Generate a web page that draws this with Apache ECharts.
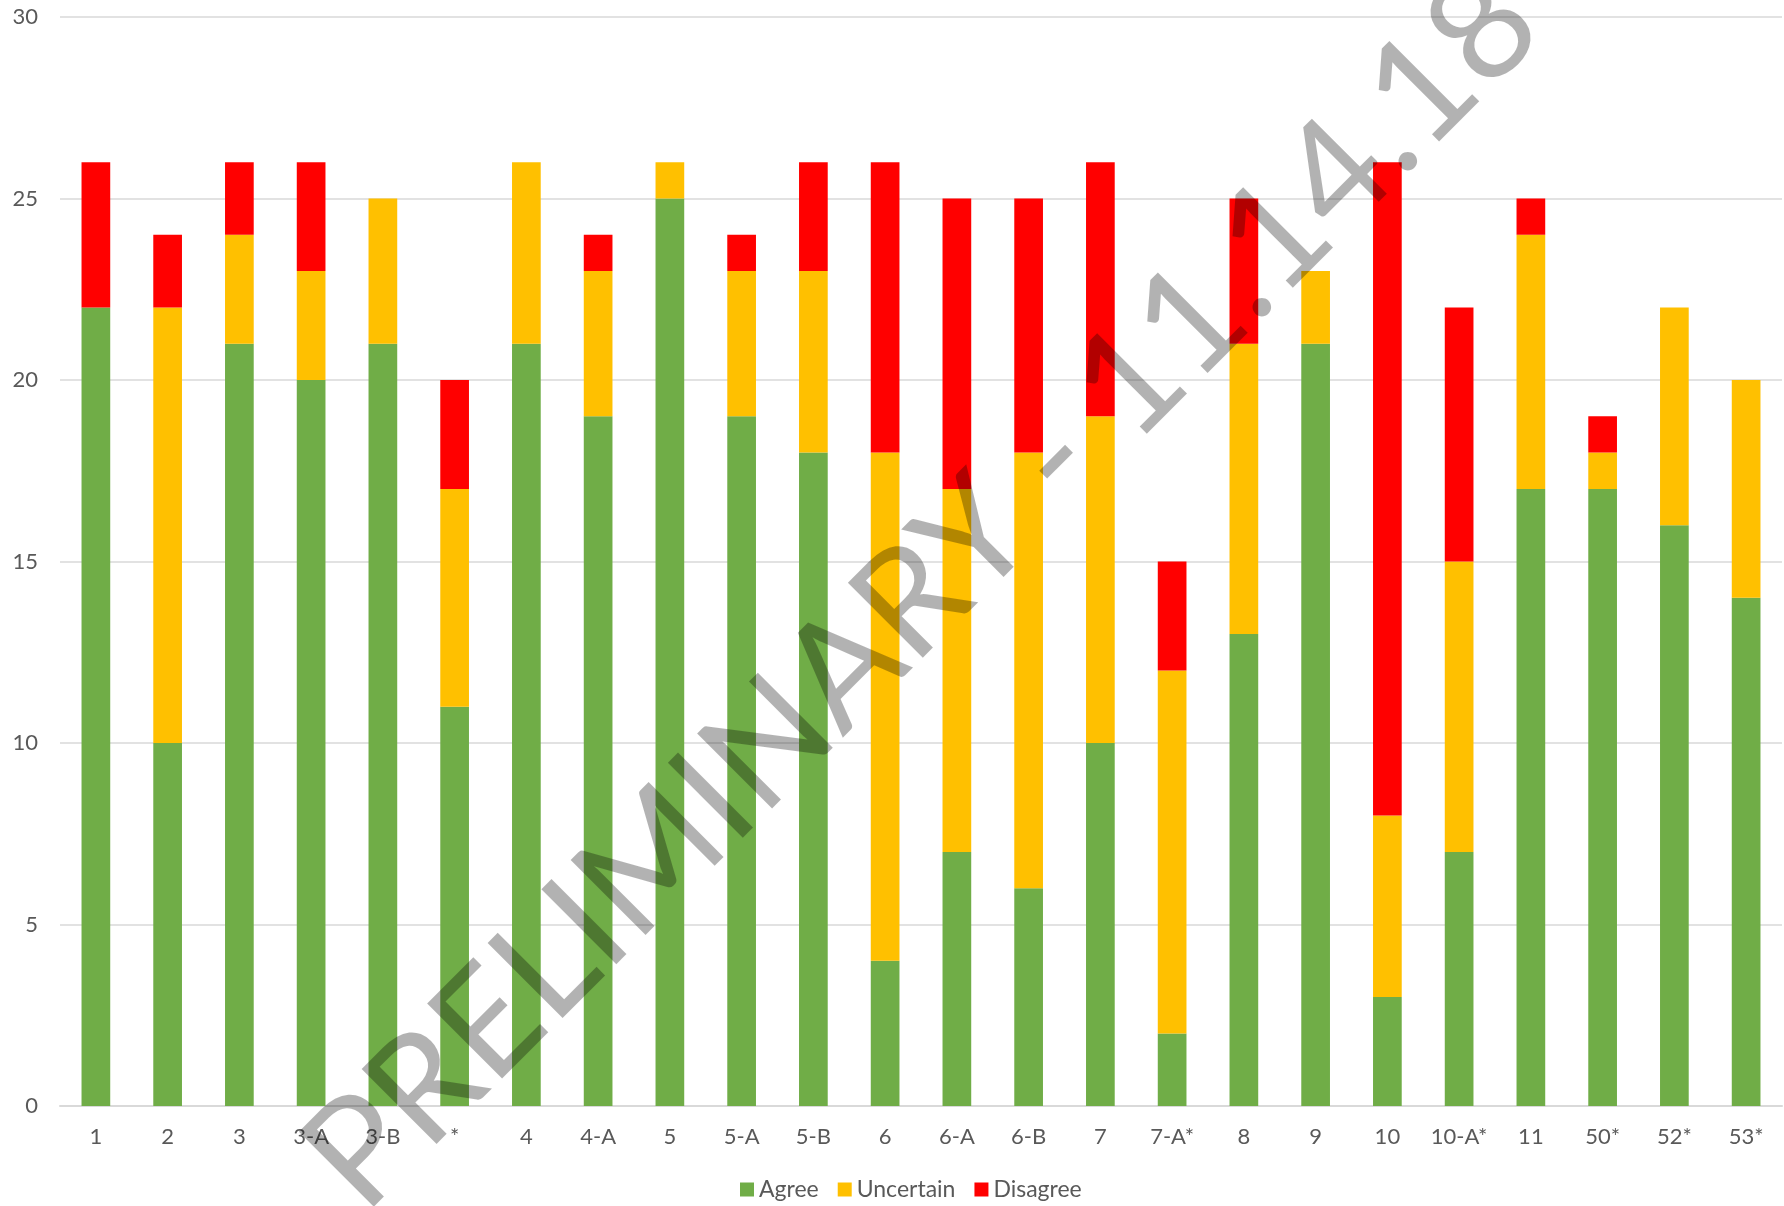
<!DOCTYPE html>
<html><head><meta charset="utf-8">
<script src="https://cdn.jsdelivr.net/npm/echarts@6/dist/echarts.min.js"></script>
<style>html,body{margin:0;padding:0;background:#fff}#c{width:1784px;height:1206px}</style>
</head><body><div id="c"></div>
<script>
const categories = ['1','2','3','3-A','3-B','*','4','4-A','5','5-A','5-B','6','6-A','6-B','7','7-A*','8','9','10','10-A*','11','50*','52*','53*'];
const agree     = [22,10,21,20,21,11,21,19,25,19,18, 4, 7, 6,10, 2,13,21, 3, 7,17,17,16,14];
const uncertain = [ 0,12, 3, 3, 4, 6, 5, 4, 1, 4, 5,14,10,12, 9,10, 8, 2, 5, 8, 7, 1, 6, 6];
const disagree  = [ 4, 2, 2, 3, 0, 3, 0, 1, 0, 1, 3, 8, 8, 7, 7, 3, 4, 0,18, 7, 1, 1, 0, 0];
const yTicks = {min: 0, max: 30, interval: 5};
const watermark = 'PRELIMINARY - 11.14.18';

const font = 'Lato, "Noto Sans", sans-serif';
const chart = echarts.init(document.getElementById('c'));
function ser(name, data, color){
  return {name, type:'bar', stack:'s', data, barWidth:'40%', itemStyle:{color}, emphasis:{disabled:true}};
}
chart.setOption({
  animation:false,
  grid:{left:60, right:2, top:17, bottom:100},
  legend:{bottom:0, left:735, itemWidth:14, itemHeight:14, itemGap:19,
    textStyle:{fontSize:23, color:'#595959', fontFamily:font, padding:[0,0,0,0]},
    data:['Agree','Uncertain','Disagree'], icon:'rect'},
  xAxis:{type:'category', data:categories,
    axisLine:{lineStyle:{color:'#d9d9d9', width:2}}, axisTick:{show:false},
    axisLabel:{fontSize:22, color:'#595959', fontFamily:font, margin:20, interval:0}},
  yAxis:{type:'value', min:yTicks.min, max:yTicks.max, interval:yTicks.interval,
    axisLine:{show:false}, axisTick:{show:false},
    splitLine:{lineStyle:{color:'#d9d9d9', width:1.5}},
    axisLabel:{fontSize:22, color:'#595959', fontFamily:font, margin:22}},
  series:[ser('Agree',agree,'#70AD47'), ser('Uncertain',uncertain,'#FFC000'), ser('Disagree',disagree,'#FF0000')],
  graphic:[{type:'text', x:922, y:591, rotation:Math.PI/4, z:100,
    style:{text:watermark, fontSize:148, fontFamily:font, fill:'rgba(0,0,0,0.3)', textAlign:'center', textVerticalAlign:'middle'}}]
});
</script></body></html>
